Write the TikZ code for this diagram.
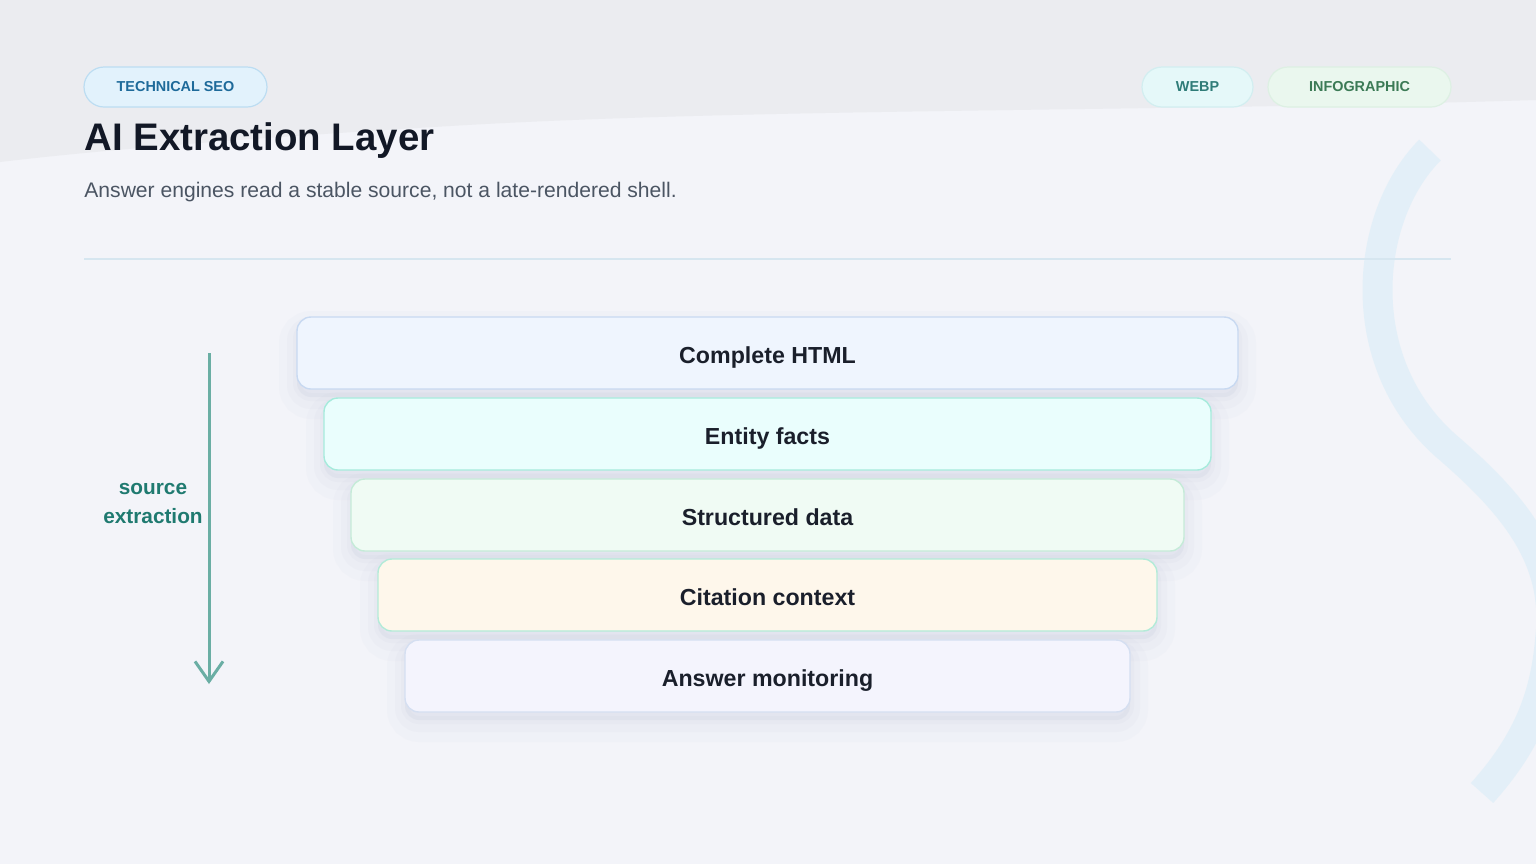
\documentclass[tikz,border=0pt]{standalone}
\usepackage{fontspec}
\setmainfont{Liberation Sans}
\usetikzlibrary{arrows.meta}

\definecolor{bgtop}{HTML}{EBECF0}
\definecolor{bgmain}{HTML}{F3F4F9}
\definecolor{titlecol}{HTML}{121826}
\definecolor{subcol}{HTML}{4B5563}
\definecolor{rulecol}{HTML}{D6E6F0}
\definecolor{layertext}{HTML}{1A1F2B}
\definecolor{shadowcol}{HTML}{B8BCD6}
\definecolor{flowcol}{HTML}{6AAEA4}
\definecolor{flowtext}{HTML}{1F7A70}
\definecolor{swirlcol}{HTML}{DDEEF8}
% pills
\definecolor{seofill}{HTML}{E2F2FC}
\definecolor{seoline}{HTML}{BCDDF2}
\definecolor{seotext}{HTML}{1E6A9A}
\definecolor{webpfill}{HTML}{E5F8F9}
\definecolor{webpline}{HTML}{D2EEF0}
\definecolor{webptext}{HTML}{2F7C78}
\definecolor{infofill}{HTML}{EAF7EE}
\definecolor{infoline}{HTML}{DDF0E3}
\definecolor{infotext}{HTML}{3B7A55}
% layers
\definecolor{htmlfill}{HTML}{EFF5FE}
\definecolor{htmlline}{HTML}{C8D9F1}
\definecolor{factsfill}{HTML}{EAFEFD}
\definecolor{factsline}{HTML}{A6EBDC}
\definecolor{datafill}{HTML}{F0FBF4}
\definecolor{dataline}{HTML}{C5EBD8}
\definecolor{citefill}{HTML}{FEF7EB}
\definecolor{citeline}{HTML}{B3EBD8}
\definecolor{monfill}{HTML}{F4F4FD}
\definecolor{monline}{HTML}{D5DFF1}

\begin{document}
\begin{tikzpicture}[x=0.5pt,y=-0.5pt,
	pill/.style={draw,rounded corners=10pt,line width=0.6pt,minimum height=20pt,inner sep=0pt,font=\bfseries\fontsize{7.2}{8}\selectfont},
	layer/.style={draw,rounded corners=7pt,line width=0.7pt,minimum height=36pt,inner sep=0pt,text height=10pt,text depth=0pt,
		text=layertext,font=\bfseries\fontsize{11.6}{13}\selectfont,
		preaction={draw=shadowcol,draw opacity=0.05,line width=18pt,transform canvas={yshift=-6pt}},
		preaction={draw=shadowcol,draw opacity=0.07,line width=10pt,transform canvas={yshift=-5pt}},
		preaction={draw=shadowcol,draw opacity=0.08,line width=4pt,transform canvas={yshift=-4pt}},
		preaction={fill=shadowcol,fill opacity=0.15,transform canvas={yshift=-4pt}}}]
	\useasboundingbox (0,0) rectangle (1536,864);
	% background
	\fill[bgmain] (0,0) rectangle (1536,864);
	\fill[bgtop] (0,0) -- (1536,0) -- (1536,100) .. controls (1150,112) and (750,108) .. (450,126) .. controls (250,138) and (100,150) .. (0,162) -- cycle;
	\begin{scope}
		\clip (0,0) rectangle (1536,864);
		\draw[swirlcol,line width=15pt,opacity=0.7] (1430,150) .. controls (1365,215) and (1350,360) .. (1445,445) .. controls (1515,505) and (1560,560) .. (1550,640) .. controls (1545,700) and (1525,745) .. (1482,793);
	\end{scope}
	% header
	\node[pill,fill=seofill,draw=seoline,text=seotext,minimum width=91.5pt] (tag1) at (175.5,87) {TECHNICAL SEO};
	\node[pill,fill=webpfill,draw=webpline,text=webptext,minimum width=55.5pt] (tag2) at (1197.5,87) {WEBP};
	\node[pill,fill=infofill,draw=infoline,text=infotext,minimum width=91.5pt] (tag3) at (1359.5,87) {INFOGRAPHIC};
	\node[anchor=base west,inner sep=0pt,text=titlecol,font=\bfseries\fontsize{19.2}{22}\selectfont] (title) at (84,150) {AI Extraction Layer};
	\node[anchor=base west,inner sep=0pt,text=subcol,font=\fontsize{10.55}{12}\selectfont] (subtitle) at (84,197) {Answer engines read a stable source, not a late-rendered shell.};
	\draw[rulecol,line width=0.6pt] (84,259) -- (1451,259);
	% layers
	\node[layer,fill=htmlfill,draw=htmlline,minimum width=470.5pt] (html) at (767.5,353) {Complete HTML};
	\node[layer,fill=factsfill,draw=factsline,minimum width=443.5pt] (facts) at (767.5,434) {Entity facts};
	\node[layer,fill=datafill,draw=dataline,minimum width=416.5pt] (data) at (767.5,515) {Structured data};
	\node[layer,fill=citefill,draw=citeline,minimum width=389.5pt] (cite) at (767.5,595) {Citation context};
	\node[layer,fill=monfill,draw=monline,minimum width=362.5pt] (monitor) at (767.5,676) {Answer monitoring};
	% flow arrow
	\coordinate (top) at (209,353);
	\coordinate (bottom) at (209,684);
	\draw[flowcol,line width=1.5pt,-{Straight Barb[length=10pt,width=14pt,line width=1.5pt]}] (top) -- (bottom);
	\node[text=flowtext,align=center,font=\bfseries\fontsize{10.4}{14.5}\selectfont,inner sep=0pt] (flowlabel) at (153,503) {source\\extraction};
\end{tikzpicture}
\end{document}
